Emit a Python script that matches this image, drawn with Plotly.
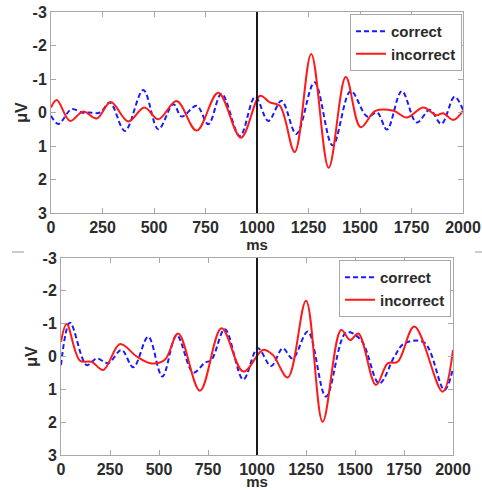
import plotly.graph_objects as go

# ---- data ----
top_correct_x = [0, 36, 100, 149, 181, 238, 286, 359, 448, 521, 594, 634, 707, 764, 828, 917, 991,
                 1055, 1119, 1191, 1279, 1367, 1455, 1535, 1583, 1631, 1703, 1775, 1839, 1895, 1959, 2000]
top_correct_y = [0.1, 0.34, -0.1, 0.0, 0.0, 0.0, -0.3, 0.55, -0.67, 0.5, -0.25, 0.12, -0.2, 0.35, -0.56, 0.7, -0.47,
                 0.25, -0.35, 0.64, -0.9, 0.98, -0.64, 0.12, 0.0, 0.51, -0.64, 0.3, -0.08, 0.34, -0.47, -0.08]
top_incorrect_x = [0, 28, 92, 157, 222, 290, 375, 453, 521, 610, 707, 812, 922, 1015,
                   1063, 1111, 1183, 1263, 1348, 1431, 1503, 1575, 1663, 1727, 1807, 1871, 1903, 1954, 2000]
top_incorrect_y = [-0.15, -0.37, 0.25, -0.03, 0.18, -0.31, 0.27, -0.15, 0.2, -0.34, 0.54, -0.59, 0.75, -0.5,
                   -0.3, -0.2, 1.18, -1.75, 1.65, -1.06, 0.44, -0.05, -0.05, 0.15, -0.15, 0.08, 0.02, 0.22, -0.05]

bot_correct_x = [0, 46, 131, 182, 241, 309, 369, 445, 517, 590, 675, 734, 768, 836, 930, 1004,
                 1072, 1131, 1182, 1259, 1352, 1455, 1531, 1624, 1701, 1752, 1854, 1956, 2000]
bot_correct_y = [0.26, -1.03, 0.26, 0.06, 0.2, -0.2, 0.33, -0.6, 0.61, -0.65, 0.49, 0.19, 0.1, -0.83, 0.7, -0.25,
                 0.29, -0.25, 0.06, -0.76, 1.22, -0.73, -0.5, 0.82, 0.0, -0.4, -0.42, 1.02, 0.36]
bot_incorrect_x = [0, 29, 97, 156, 216, 301, 386, 462, 530, 598, 709, 819, 930, 1030,
                   1080, 1157, 1250, 1335, 1429, 1475, 1517, 1607, 1667, 1718, 1803, 1947, 2000]
bot_incorrect_y = [-0.45, -0.99, 0.13, 0.16, 0.41, -0.38, 0.0, 0.21, 0.1, -0.7, 1.04, -0.86, 0.46, -0.2,
                   -0.05, 0.64, -1.7, 1.99, -0.81, -0.5, -0.7, 0.87, 0.21, 0.16, -0.91, 1.07, -0.2]

x_ticks = [0, 250, 500, 750, 1000, 1250, 1500, 1750, 2000]
x_labels = ["0", "250", "500", "750", "1000", "1250", "1500", "1750", "2000"]
y_ticks = [-3, -2, -1, 0, 1, 2, 3]
y_labels = ["-3", "-2", "-1", "0", "1", "2", "3"]
onset_ms = 1000

BLUE = "#1a1aff"
RED = "#ff1a1a"
FONT = "Liberation Sans"
TXT = "#2b2b2b"

fig = go.Figure()

def add_pair(cx, cy, ix, iy, xa, ya, leg):
    fig.add_trace(go.Scatter(x=cx, y=cy, mode="lines", name="correct", line_shape="spline",
                             line=dict(color=BLUE, width=2, dash="5px,3px"),
                             xaxis=xa, yaxis=ya, legend=leg))
    fig.add_trace(go.Scatter(x=ix, y=iy, mode="lines", name="incorrect", line_shape="spline",
                             line=dict(color=RED, width=2),
                             xaxis=xa, yaxis=ya, legend=leg))

add_pair(top_correct_x, top_correct_y, top_incorrect_x, top_incorrect_y, "x", "y", "legend")
add_pair(bot_correct_x, bot_correct_y, bot_incorrect_x, bot_incorrect_y, "x2", "y2", "legend2")

W, H = 482, 490
def fx(p): return p / W
def fy(p): return 1 - p / H

tfont = dict(family=FONT, size=16, color=TXT, weight="bold")
titlefont = dict(family=FONT, size=15, color=TXT, weight="bold")
axis_common = dict(showline=True, linecolor="#a8a8a8", linewidth=1, mirror="ticks",
                   ticks="inside", ticklen=5, tickcolor="#a8a8a8", showgrid=False, zeroline=False,
                   automargin=False, tickfont=tfont)

def xaxis(dom, anchor):
    return dict(domain=dom, range=[0, 2000], tickvals=x_ticks, ticktext=x_labels, anchor=anchor,
                title=dict(text="ms", standoff=0, font=titlefont), **axis_common)

def yaxis(dom, anchor):
    return dict(domain=dom, range=[3, -3], tickvals=y_ticks, ticktext=y_labels, anchor=anchor,
                title=dict(text="μV", standoff=0, font=tfont), **axis_common)

legend_common = dict(xanchor="right", yanchor="top", bgcolor="white", bordercolor="#a8a8a8",
                     borderwidth=1, font=dict(family=FONT, size=15, color=TXT, weight="bold"),
                     tracegroupgap=0, itemwidth=30)

fig.update_layout(
    width=W, height=H, margin=dict(l=0, r=0, t=0, b=0, autoexpand=False),
    paper_bgcolor="white", plot_bgcolor="white",
    font=dict(family=FONT, size=16, color=TXT),
    xaxis=xaxis([fx(51), fx(463)], "y"),
    yaxis=yaxis([fy(213), fy(12)], "x"),
    xaxis2=xaxis([fx(61), fx(453)], "y2"),
    yaxis2=yaxis([fy(455), fy(258)], "x2"),
    legend=dict(x=fx(462), y=fy(14), **legend_common),
    legend2=dict(x=fx(451), y=fy(260), **legend_common),
    showlegend=True,
)

# vertical onset lines
for xr, yr in (("x", "y domain"), ("x2", "y2 domain")):
    fig.add_shape(type="line", xref=xr, yref=yr, x0=onset_ms, x1=onset_ms, y0=0, y1=1,
                  line=dict(color="#1a1a1a", width=2), layer="above")

# small separator dashes
fig.add_shape(type="line", xref="paper", yref="paper", x0=fx(12), x1=fx(24), y0=fy(252), y1=fy(252),
              line=dict(color="#999999", width=1))
fig.add_shape(type="line", xref="paper", yref="paper", x0=fx(475), x1=fx(482), y0=fy(252), y1=fy(252),
              line=dict(color="#999999", width=1))

fig.write_html("out.html", config={"displayModeBar": False},
               post_script="document.body.style.margin='0';document.body.style.overflow='hidden';")
